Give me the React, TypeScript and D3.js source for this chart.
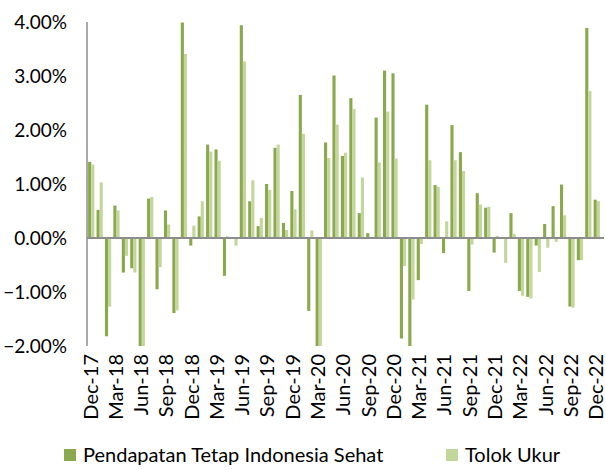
import * as d3 from "d3";
import React, { RefObject, useEffect, useRef } from "react";

const months = [
  "Dec-17", "Jan-18", "Feb-18", "Mar-18", "Apr-18", "May-18", "Jun-18", "Jul-18", "Aug-18", "Sep-18", "Oct-18", "Nov-18",
  "Dec-18", "Jan-19", "Feb-19", "Mar-19", "Apr-19", "May-19", "Jun-19", "Jul-19", "Aug-19", "Sep-19", "Oct-19", "Nov-19",
  "Dec-19", "Jan-20", "Feb-20", "Mar-20", "Apr-20", "May-20", "Jun-20", "Jul-20", "Aug-20", "Sep-20", "Oct-20", "Nov-20",
  "Dec-20", "Jan-21", "Feb-21", "Mar-21", "Apr-21", "May-21", "Jun-21", "Jul-21", "Aug-21", "Sep-21", "Oct-21", "Nov-21",
  "Dec-21", "Jan-22", "Feb-22", "Mar-22", "Apr-22", "May-22", "Jun-22", "Jul-22", "Aug-22", "Sep-22", "Oct-22", "Nov-22",
  "Dec-22",
];

// monthly returns, %
const fundValues = [
  1.41, 0.52, -1.82, 0.6, -0.64, -0.56, -2.1, 0.73, -0.95, 0.51, -1.39, 3.99,
  -0.14, 0.4, 1.73, 1.64, -0.7, 0.0, 3.94, 0.68, 0.22, 1.0, 1.67, 0.28,
  0.87, 2.65, -1.35, -2.1, 1.77, 3.01, 1.52, 2.59, 0.46, 0.09, 2.23, 3.1,
  3.05, -1.86, -2.1, -0.78, 2.47, 0.98, -0.28, 2.09, 1.59, -0.98, 0.83, 0.56,
  -0.27, 0.0, 0.46, -0.98, -1.09, -0.14, 0.26, 0.59, 0.99, -1.27, -0.41, 3.89,
  0.71,
];

const benchmarkValues = [
  1.36, 1.03, -1.27, 0.51, -0.33, -0.64, -2.1, 0.76, -0.54, 0.25, -1.34, 3.41,
  0.23, 0.68, 1.6, 1.43, 0.03, -0.14, 3.27, 1.07, 0.37, 0.89, 1.73, 0.15,
  0.53, 1.93, 0.14, -2.1, 1.48, 2.1, 1.58, 2.39, 1.12, 0.0, 1.4, 2.34,
  1.47, -0.52, -1.14, -0.11, 1.44, 0.95, 0.31, 1.44, 1.24, -0.12, 0.62, 0.58,
  0.04, -0.46, 0.08, -1.07, -1.12, -0.63, -0.18, -0.07, 0.42, -1.29, -0.41, 2.72,
  0.68,
];

const seriesNames = ["Pendapatan Tetap Indonesia Sehat", "Tolok Ukur"];
const seriesColors = ["#8aa94d", "#c3d69b"];
const yTicks = [-2, -1, 0, 1, 2, 3, 4];
const labelEvery = 3;

const App = () => {
  const d3Ref: RefObject<HTMLDivElement> = useRef(null);

  useEffect(() => {
    document.body.style.margin = "0";
    const width = 606;
    const height = 469;
    const font = "Lato, 'Open Sans', sans-serif";

    d3.select(d3Ref.current).selectAll("*").remove();
    const svg = d3
      .select(d3Ref.current)
      .append("svg")
      .attr("width", width)
      .attr("height", height)
      .style("display", "block");

    const plotLeft = 87;
    const plotRight = 601;
    const plotTop = 22;
    const plotBottom = 346;

    const x = d3.scaleBand().domain(months).range([plotLeft, plotRight]).paddingInner(0.26).paddingOuter(0.13);
    const xSub = d3.scaleBand().domain(["0", "1"]).range([0, x.bandwidth()]);
    const y = d3.scaleLinear().domain([-2, 4]).range([plotBottom, plotTop]).clamp(true);

    // y axis labels
    svg
      .append("g")
      .selectAll("text")
      .data(yTicks)
      .enter()
      .append("text")
      .attr("x", 67)
      .attr("y", (d) => y(d))
      .attr("dy", "0.36em")
      .attr("text-anchor", "end")
      .attr("font-family", font)
      .attr("font-size", 19)
      .attr("fill", "#000")
      .text((d) => d3.format(".2%")(d / 100));

    // bars
    const rows = months.map((m, i) => ({ m, vals: [fundValues[i], benchmarkValues[i]] }));
    const groups = svg
      .append("g")
      .selectAll("g")
      .data(rows)
      .enter()
      .append("g")
      .attr("transform", (d) => `translate(${x(d.m)},0)`);

    groups
      .selectAll("rect")
      .data((d) => d.vals.map((v, k) => ({ v, k })))
      .enter()
      .append("rect")
      .attr("x", (d) => xSub(String(d.k)) as number)
      .attr("width", xSub.bandwidth())
      .attr("y", (d) => Math.min(y(d.v), y(0)))
      .attr("height", (d) => Math.abs(y(d.v) - y(0)))
      .attr("fill", (d) => seriesColors[d.k]);

    // y axis line
    svg
      .append("line")
      .attr("x1", plotLeft)
      .attr("x2", plotLeft)
      .attr("y1", plotTop)
      .attr("y2", plotBottom)
      .attr("stroke", "#8c8c8c")
      .attr("stroke-width", 1.5);

    // zero line
    svg
      .append("line")
      .attr("x1", plotLeft)
      .attr("x2", 604)
      .attr("y1", y(0))
      .attr("y2", y(0))
      .attr("stroke", "#8c8c8c")
      .attr("stroke-width", 2);

    // x labels
    svg
      .append("g")
      .selectAll("text")
      .data(months.filter((_, i) => i % labelEvery === 0))
      .enter()
      .append("text")
      .attr("transform", (d) => `translate(${(x(d) as number) + x.bandwidth() / 2 - 0.5},354) rotate(-90)`)
      .attr("dy", "0.34em")
      .attr("text-anchor", "end")
      .attr("font-family", font)
      .attr("font-size", 20)
      .attr("fill", "#000")
      .text((d) => d);

    // legend
    const legendX = [64, 446];
    const legend = svg
      .append("g")
      .selectAll("g")
      .data(seriesNames)
      .enter()
      .append("g")
      .attr("transform", (d, i) => `translate(${legendX[i]},449)`);
    legend
      .append("rect")
      .attr("width", 12)
      .attr("height", 12)
      .attr("fill", (d, i) => seriesColors[i]);
    legend
      .append("text")
      .attr("x", 19)
      .attr("y", 6)
      .attr("dy", "0.36em")
      .attr("font-family", font)
      .attr("font-size", 20)
      .attr("fill", "#000")
      .text((d) => d);
  }, [d3Ref]);

  return (
    <>
      <div ref={d3Ref} />
    </>
  );
};

export default App;
